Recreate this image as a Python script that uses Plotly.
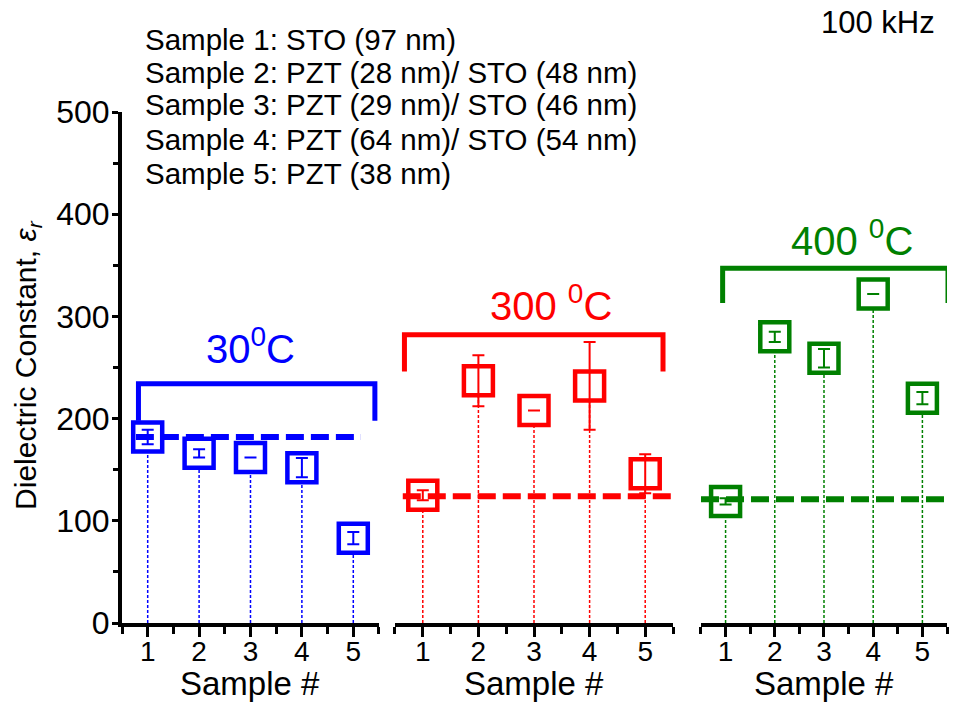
import plotly.graph_objects as go

# ---------------- data ----------------
samples = [1, 2, 3, 4, 5]
tick_labels = ["1", "2", "3", "4", "5"]
x_title = "Sample #"

eps_30 = [182, 166, 162, 152, 83]
err_30 = [7, 4, None, 9.5, 6]
eps_300 = [125, 237, 208, 232, 146]
err_300 = [5, 25, None, 43, 19]
eps_400 = [119, 280, 259, 322, 220]
err_400 = [3, 5, 9, None, 6]

temp_labels = ["30<sup>0</sup>C", "300 <sup>0</sup>C", "400 <sup>0</sup>C"]
colors = ["#0000FF", "#FF0000", "#008000"]

# reference (dashed) levels and their x extents
ref_level = [182, 124, 121]
ref_x = [(0.77, 5.15), (0.64, 5.47), (0.5, 5.5)]
# bracket groupings
bracket_top = [234, 282, 347]
bracket_bottom = [198, 246, 313]
bracket_x = [(0.82, 5.42), (0.67, 5.32), (0.94, 5.52)]
label_pos = [(3.0, 271), (3.3, 313), (3.57, 377)]

sample_notes = [
    "Sample 1: STO (97 nm)",
    "Sample 2: PZT (28 nm)/ STO (48 nm)",
    "Sample 3: PZT (29 nm)/ STO (46 nm)",
    "Sample 4: PZT (64 nm)/ STO (54 nm)",
    "Sample 5: PZT (38 nm)",
]
freq_label = "100 kHz"

FONT = "Arial, Liberation Sans, sans-serif"

panels = [
    (eps_30, err_30),
    (eps_300, err_300),
    (eps_400, err_400),
]
xaxes = ["x", "x2", "x3"]
domains = [[0, 0.3115], [0.3309, 0.6679], [0.7018, 1.0]]

fig = go.Figure()
annotations = []

for i, (vals, errs) in enumerate(panels):
    xa = xaxes[i]
    c = colors[i]
    # drop lines
    dx, dy = [], []
    for s, v in zip(samples, vals):
        dx += [s, s, None]
        dy += [0, v, None]
    fig.add_trace(go.Scatter(x=dx, y=dy, mode="lines", xaxis=xa, yaxis="y",
                             line=dict(color=c, width=1.5, dash="3px,2px"),
                             hoverinfo="skip", showlegend=False))
    # bracket
    bx0, bx1 = bracket_x[i]
    fig.add_trace(go.Scatter(x=[bx0, bx0, bx1, bx1],
                             y=[bracket_bottom[i], bracket_top[i], bracket_top[i], bracket_bottom[i]],
                             mode="lines", xaxis=xa, yaxis="y",
                             line=dict(color=c, width=5),
                             hoverinfo="skip", showlegend=False))
    # squares
    fig.add_trace(go.Scatter(x=samples, y=vals, mode="markers", xaxis=xa, yaxis="y",
                             marker=dict(symbol="square", size=29, color="white",
                                         line=dict(color=c, width=4.5)),
                             showlegend=False))
    # error bars on top
    fig.add_trace(go.Scatter(x=samples, y=vals, mode="markers", xaxis=xa, yaxis="y",
                             marker=dict(size=1, color="rgba(0,0,0,0)"),
                             error_y=dict(type="data", array=errs, visible=True,
                                          color=c, thickness=2, width=6),
                             hoverinfo="skip", showlegend=False))
    # dashed reference line
    rx0, rx1 = ref_x[i]
    fig.add_trace(go.Scatter(x=[rx0, rx1], y=[ref_level[i], ref_level[i]],
                             mode="lines", xaxis=xa, yaxis="y",
                             line=dict(color=c, width=6, dash="18px,7px"),
                             hoverinfo="skip", showlegend=False))
    # temperature label
    annotations.append(dict(x=label_pos[i][0], y=label_pos[i][1],
                            xref=xa, yref="y", text=temp_labels[i],
                            xanchor="center", yanchor="middle",
                            showarrow=False, font=dict(family=FONT, size=40, color=c)))
    # x-axis title for this panel
    annotations.append(dict(x=(domains[i][0] + domains[i][1]) / 2, y=-0.118,
                            xref="paper", yref="paper", text=x_title,
                            xanchor="center", yanchor="middle", showarrow=False,
                            font=dict(family=FONT, size=33, color="black")))

# sample notes
note_y = [1.141, 1.078, 1.014, 0.947, 0.879]
for t, yy in zip(sample_notes, note_y):
    annotations.append(dict(x=0.025, y=yy, xref="paper", yref="paper", text=t,
                            showarrow=False, xanchor="left", yanchor="middle",
                            font=dict(family=FONT, size=29.5, color="black")))
annotations.append(dict(x=0.916, y=1.176, xref="paper", yref="paper", text=freq_label,
                        showarrow=False, xanchor="center", yanchor="middle",
                        font=dict(family=FONT, size=31, color="black")))
annotations.append(dict(x=-0.114, y=0.505, xref="paper", yref="paper",
                        text="Dielectric Constant, <i>ε</i><sub><i>r</i></sub>",
                        textangle=-90, showarrow=False, xanchor="center", yanchor="middle",
                        font=dict(family=FONT, size=30, color="black")))

xcommon = dict(range=[0.5, 5.5], tickmode="array", tickvals=samples, ticktext=tick_labels,
               showline=True, linecolor="black", linewidth=4,
               ticks="outside", ticklen=10, tickwidth=3, tickcolor="black",
               minor=dict(dtick=0.5, tick0=0.5, ticks="outside", ticklen=7, tickwidth=3,
                          tickcolor="black"),
               showgrid=False, zeroline=False, anchor="y", automargin=False,
               ticklabelstandoff=-10,
               tickfont=dict(family=FONT, size=28, color="black"))

fig.update_layout(
    width=953, height=702,
    margin=dict(l=122, r=6, t=112, b=79, autoexpand=False),
    paper_bgcolor="white", plot_bgcolor="white",
    showlegend=False,
    xaxis=dict(domain=domains[0], **xcommon),
    xaxis2=dict(domain=domains[1], **xcommon),
    xaxis3=dict(domain=domains[2], **xcommon),
    yaxis=dict(range=[0, 500], tickmode="linear", tick0=0, dtick=100,
               showline=True, linecolor="black", linewidth=4,
               ticks="outside", ticklen=6, tickwidth=3, tickcolor="black",
               minor=dict(dtick=50, ticks="outside", ticklen=5, tickwidth=3, tickcolor="black"),
               showgrid=False, zeroline=False, anchor="x", automargin=False,
               ticklabelstandoff=-4,
               tickfont=dict(family=FONT, size=32, color="black")),
    annotations=annotations,
)

fig.write_html("out.html")
